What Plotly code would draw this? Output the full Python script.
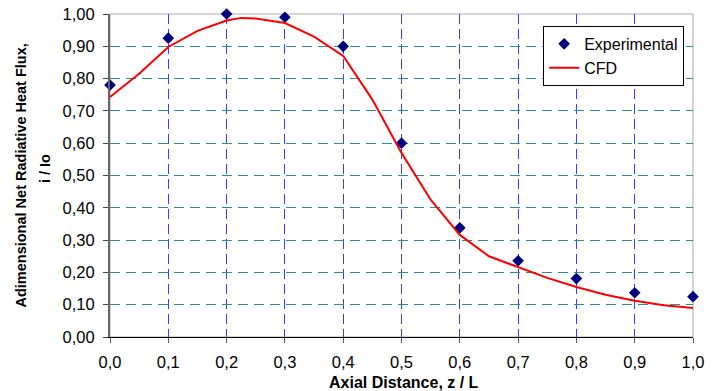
import plotly.graph_objects as go

exp_x = [0.0, 0.1, 0.2, 0.3, 0.4, 0.5, 0.6, 0.7, 0.8, 0.9, 1.0]
exp_y = [0.78, 0.925, 1.00, 0.99, 0.90, 0.60, 0.338, 0.236, 0.181, 0.137, 0.125]

cfd_x = [0.0, 0.05, 0.1, 0.15, 0.2, 0.225, 0.25, 0.3, 0.35, 0.4, 0.45, 0.5,
         0.55, 0.6, 0.65, 0.7, 0.75, 0.8, 0.85, 0.9, 0.95, 1.0]
cfd_y = [0.743, 0.815, 0.898, 0.948, 0.980, 0.988, 0.986, 0.972, 0.930, 0.870,
         0.735, 0.570, 0.425, 0.316, 0.250, 0.216, 0.183, 0.155, 0.131, 0.112,
         0.098, 0.090]

x_ticks = [0.0, 0.1, 0.2, 0.3, 0.4, 0.5, 0.6, 0.7, 0.8, 0.9, 1.0]
y_ticks = [0.0, 0.1, 0.2, 0.3, 0.4, 0.5, 0.6, 0.7, 0.8, 0.9, 1.0]

x_title = "Axial Distance, z / L"
y_title_1 = "Adimensional Net Radiative Heat Flux,"
y_title_2 = "i / Io"

font = "Liberation Sans, Arial, sans-serif"

fig = go.Figure()
fig.add_trace(go.Scatter(
    x=exp_x, y=exp_y, mode="markers", name="Experimental",
    marker=dict(symbol="diamond", size=9, color="#000080"),
    cliponaxis=False,
))
fig.add_trace(go.Scatter(
    x=cfd_x, y=cfd_y, mode="lines", name="CFD",
    line=dict(color="#ff0000", width=2),
))

fig.update_layout(
    width=720, height=391,
    margin=dict(l=110, r=27, t=14, b=54),
    paper_bgcolor="white", plot_bgcolor="white",
    separators=",.",
    font=dict(family=font, size=16, color="black"),
    showlegend=True,
    legend=dict(
        x=0.743, y=0.963, xanchor="left", yanchor="top",
        bordercolor="black", borderwidth=1, bgcolor="white",
        font=dict(size=16), itemwidth=30,
    ),
    xaxis=dict(
        range=[0, 1], tickvals=x_ticks, tickformat=".1f", automargin=False,
        showgrid=True, gridcolor="#3b3bff", griddash="10px,5px", gridwidth=1,
        showline=True, linecolor="black", linewidth=1,
        ticks="outside", ticklen=5, tickcolor="#555555",
        ticklabelstandoff=5,
        zeroline=False,
        tickfont=dict(size=16.5),
    ),
    yaxis=dict(
        range=[0, 1], tickvals=y_ticks, tickformat=".2f", automargin=False,
        showgrid=True, gridcolor="#2f8f8f", griddash="10px,6px", gridwidth=1,
        showline=True, linecolor="#666666", linewidth=2,
        ticks="outside", ticklen=5, tickcolor="#444444",
        ticklabelstandoff=5,
        zeroline=False,
        tickfont=dict(size=16.5),
    ),
    shapes=[dict(type="rect", xref="paper", yref="paper", x0=0, x1=1, y0=0, y1=1,
                 line=dict(color="#aaaaaa", width=1), layer="below")],
    annotations=[
        dict(text="<b>" + x_title + "</b>", xref="paper", yref="paper",
             x=0.505, y=0, yshift=-45, xanchor="center", yanchor="middle",
             showarrow=False, font=dict(size=16)),
        dict(text="<b>" + y_title_1 + "</b>", xref="paper", yref="paper",
             x=0, y=0.5, xshift=-90, xanchor="center", yanchor="middle",
             textangle=-90, showarrow=False, font=dict(size=14.5)),
        dict(text="<b>" + y_title_2 + "</b>", xref="paper", yref="paper",
             x=0, y=0.52, xshift=-65, xanchor="center", yanchor="middle",
             textangle=-90, showarrow=False, font=dict(size=14.5)),
    ],
)

fig.write_html(
    "out.html",
    config={"displayModeBar": False},
    post_script="document.body.style.margin='0';document.body.style.padding='0';",
)
